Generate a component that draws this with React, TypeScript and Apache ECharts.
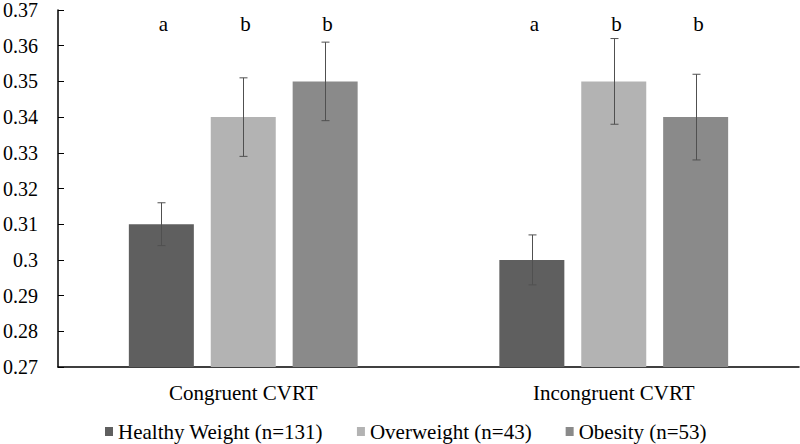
import React, { useEffect, useRef } from "react";
import * as echarts from "echarts";

const categories = ["Congruent CVRT", "Incongruent CVRT"];
const seriesNames = ["Healthy Weight (n=131)", "Overweight (n=43)", "Obesity (n=53)"];
const healthy = [0.31, 0.30];
const healthyErr = [0.006, 0.007];
const overweight = [0.34, 0.35];
const overweightErr = [0.011, 0.012];
const obesity = [0.35, 0.34];
const obesityErr = [0.011, 0.012];
const healthyLetters = ["a", "a"];
const overweightLetters = ["b", "b"];
const obesityLetters = ["b", "b"];
const letterLevel = 0.3662;

const colors = ["#5f5f5f", "#b3b3b3", "#8a8a8a"];
const FONT = "Liberation Serif";

export default function App() {
  const ref = useRef<HTMLDivElement>(null);
  useEffect(() => {
    if (!ref.current) return;
    const chart = echarts.init(ref.current, undefined, { renderer: "svg" });
    const values = [healthy, overweight, obesity];
    const errs = [healthyErr, overweightErr, obesityErr];
    const letters = [healthyLetters, overweightLetters, obesityLetters];
    const BAR_W = 65;
    const GAP = 17;

    const errSeries = values.map((vals, si) => ({
      type: "custom",
      name: seriesNames[si] + " err",
      z: 10,
      silent: true,
      data: vals.map((v, i) => [i, v, errs[si][i]]),
      renderItem: (params: any, api: any) => {
        const ci = api.value(0);
        const v = api.value(1);
        const e = api.value(2);
        const off = (si - 1) * (BAR_W + GAP);
        const top = api.coord([ci, v + e]);
        const bot = api.coord([ci, v - e]);
        const lab = api.coord([ci, letterLevel]);
        const x = Math.round(top[0] + off) + 0.5;
        const stroke = { stroke: "#505050", lineWidth: 1 };
        return {
          type: "group",
          children: [
            { type: "line", shape: { x1: x, y1: top[1], x2: x, y2: bot[1] }, style: stroke },
            { type: "line", shape: { x1: x - 4, y1: top[1], x2: x + 4, y2: top[1] }, style: stroke },
            { type: "line", shape: { x1: x - 4, y1: bot[1], x2: x + 4, y2: bot[1] }, style: stroke },
            {
              type: "text",
              x: x + 2,
              y: lab[1],
              style: {
                text: letters[si][ci],
                fill: "#000",
                fontFamily: FONT,
                fontSize: 21,
                align: "center",
                verticalAlign: "middle",
              },
            },
          ],
        };
      },
    }));

    chart.setOption({
      animation: false,
      color: colors,
      textStyle: { fontFamily: FONT },
      grid: { left: 55, right: 1, top: 7, bottom: 77, containLabel: false },
      legend: {
        data: seriesNames,
        left: 105,
        top: 421,
        itemWidth: 8,
        itemHeight: 9,
        itemGap: 34,
        icon: "rect",
        padding: 0,
        textStyle: { fontFamily: FONT, fontSize: 21, color: "#000" },
      },
      xAxis: {
        type: "category",
        data: categories,
        axisTick: { show: false },
        axisLine: { lineStyle: { color: "#000", width: 1.5 } },
        axisLabel: { fontFamily: FONT, fontSize: 21, color: "#000", margin: 15 },
      },
      yAxis: {
        type: "value",
        min: 0.27,
        max: 0.37,
        interval: 0.01,
        splitLine: { show: false },
        axisLine: { show: true, lineStyle: { color: "#000", width: 1.5 } },
        axisTick: { show: true, inside: true, length: 6, lineStyle: { color: "#000" } },
        axisLabel: {
          fontFamily: FONT,
          fontSize: 20,
          color: "#000",
          margin: 20,
          formatter: (v: number) => String(+v.toFixed(2)),
        },
      },
      series: [
        ...values.map((vals, si) => ({
          type: "bar",
          name: seriesNames[si],
          data: vals,
          barWidth: BAR_W,
          barGap: "26%",
          itemStyle: { color: colors[si] },
        })),
        ...errSeries,
      ],
    });
    return () => chart.dispose();
  }, []);
  return <div ref={ref} style={{ width: 800, height: 444, position: "absolute", left: 0, top: 0 }} />;
}
